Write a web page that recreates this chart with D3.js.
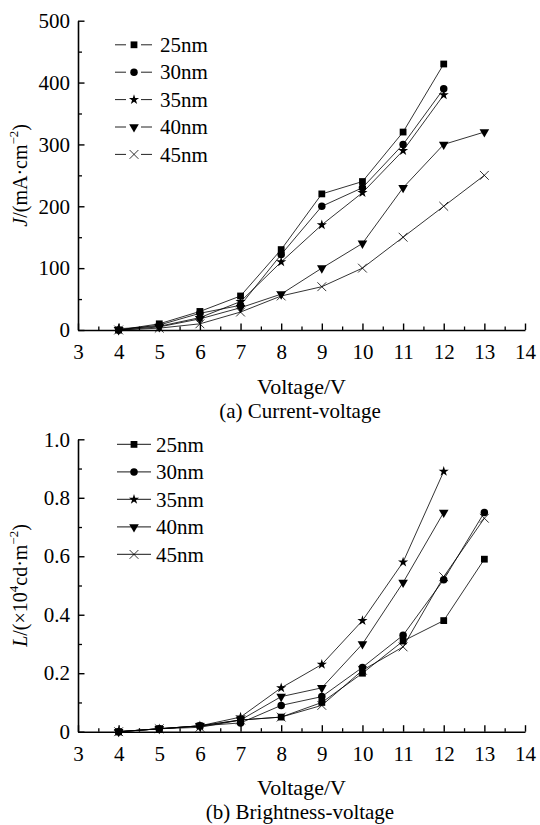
<!DOCTYPE html>
<html>
<head>
<meta charset="utf-8">
<script src="https://cdn.jsdelivr.net/npm/d3@7"></script>
<style>
  body { margin: 0; background: #fff; }
</style>
</head>
<body>
<div id="chart"></div>
<script>
var FONT = "Liberation Serif";

// series names
var seriesNames = ["25nm", "30nm", "35nm", "40nm", "45nm"];
var markerTypes = ["square", "circle", "star", "triangle", "cross"];

// (a) current density J vs voltage
var voltsA = [
  [4, 5, 6, 7, 8, 9, 10, 11, 12],
  [4, 5, 6, 7, 8, 9, 10, 11, 12],
  [4, 5, 6, 7, 8, 9, 10, 11, 12],
  [4, 5, 6, 7, 8, 9, 10, 11, 12, 13],
  [4, 5, 6, 7, 8, 9, 10, 11, 12, 13]
];
var currentJ = [
  [0, 10, 30, 55, 130, 220, 240, 320, 430],
  [0, 8, 27, 40, 122, 200, 230, 300, 390],
  [2, 6, 20, 46, 110, 170, 222, 290, 380],
  [0, 5, 18, 36, 58, 100, 140, 230, 300, 320],
  [0, 3, 10, 29, 55, 70, 100, 150, 200, 250]
];

// (b) brightness L vs voltage
var voltsB = [
  [4, 5, 6, 7, 8, 9, 10, 11, 12, 13],
  [4, 5, 6, 7, 8, 9, 10, 11, 12, 13],
  [4, 5, 6, 7, 8, 9, 10, 11, 12],
  [4, 5, 6, 7, 8, 9, 10, 11, 12],
  [4, 5, 6, 7, 8, 9, 10, 11, 12, 13]
];
var brightL = [
  [0, 0.01, 0.02, 0.04, 0.05, 0.10, 0.20, 0.31, 0.38, 0.59],
  [0, 0.01, 0.02, 0.03, 0.09, 0.12, 0.22, 0.33, 0.52, 0.75],
  [0, 0.01, 0.02, 0.05, 0.15, 0.23, 0.38, 0.58, 0.89],
  [0, 0.01, 0.02, 0.04, 0.12, 0.15, 0.30, 0.51, 0.75],
  [0, 0.01, 0.015, 0.04, 0.05, 0.09, 0.21, 0.29, 0.53, 0.73]
];

// ticks
var xTicks = [3, 4, 5, 6, 7, 8, 9, 10, 11, 12, 13, 14];
var xMinor = [3.5, 4.5, 5.5, 6.5, 7.5, 8.5, 9.5, 10.5, 11.5, 12.5, 13.5];
var yTicksA = [0, 100, 200, 300, 400, 500];
var yMinorA = [50, 150, 250, 350, 450];
var yTicksB = [0, 0.2, 0.4, 0.6, 0.8, 1.0];
var yMinorB = [0.1, 0.3, 0.5, 0.7, 0.9];

var svg = d3.select("#chart").append("svg")
  .attr("width", 540)
  .attr("height", 825)
  .attr("font-family", FONT);

// draw one marker
function marker(g, type, x, y) {
  if (type == "cross") {
    var r = 4.4;
    g.append("path")
      .attr("d", "M" + (x - r) + "," + (y - r) + "L" + (x + r) + "," + (y + r) +
                 "M" + (x - r) + "," + (y + r) + "L" + (x + r) + "," + (y - r))
      .attr("stroke", "#000").attr("stroke-width", 0.8).attr("fill", "none");
    return;
  }
  var sym, rot = 0;
  if (type == "square") sym = d3.symbol().type(d3.symbolSquare).size(46);
  if (type == "circle") sym = d3.symbol().type(d3.symbolCircle).size(44);
  if (type == "star") sym = d3.symbol().type(d3.symbolStar).size(32);
  if (type == "triangle") { sym = d3.symbol().type(d3.symbolTriangle).size(40); rot = 180; }
  g.append("path")
    .attr("d", sym())
    .attr("transform", "translate(" + x + "," + y + ") rotate(" + rot + ")")
    .attr("fill", "#000");
}

function panel(opt) {
  var x = d3.scaleLinear().domain([3, 14]).range([78, 525]);
  var y = d3.scaleLinear().domain(opt.yDomain).range(opt.yRange);
  var g = svg.append("g");

  // minor ticks
  g.append("g")
    .attr("transform", "translate(0," + opt.yRange[0] + ")")
    .call(d3.axisBottom(x).tickValues(xMinor).tickSizeInner(-3.5).tickSizeOuter(0).tickFormat(""))
    .call(function(a) { a.select(".domain").remove(); a.selectAll("line").attr("stroke-width", 1.3); });
  g.append("g")
    .attr("transform", "translate(78,0)")
    .call(d3.axisLeft(y).tickValues(opt.yMinor).tickSizeInner(-4).tickSizeOuter(0).tickFormat(""))
    .call(function(a) { a.select(".domain").remove(); a.selectAll("line").attr("stroke-width", 1.3); });

  // major axes
  var xa = g.append("g")
    .attr("transform", "translate(0," + opt.yRange[0] + ")")
    .call(d3.axisBottom(x).tickValues(xTicks).tickSizeInner(-6.5).tickSizeOuter(0).tickPadding(14));
  var ya = g.append("g")
    .attr("transform", "translate(78,0)")
    .call(d3.axisLeft(y).tickValues(opt.yTicks).tickSizeInner(-6.5).tickSizeOuter(0).tickPadding(8)
      .tickFormat(opt.fmt));
  [xa, ya].forEach(function(a) {
    a.attr("font-family", FONT).attr("font-size", 21);
    a.select(".domain").attr("stroke-width", 1.6);
    a.selectAll("line").attr("stroke-width", 1.4);
    a.selectAll("text").attr("font-size", 21).attr("font-family", FONT).attr("fill", "#000");
  });

  // lines and markers
  var line = d3.line()
    .x(function(d) { return x(d[0]); })
    .y(function(d) { return y(d[1]); });
  for (var i = 0; i < seriesNames.length; i++) {
    var pts = opt.xs[i].map(function(v, k) { return [v, opt.ys[i][k]]; });
    g.append("path")
      .datum(pts)
      .attr("d", line)
      .attr("fill", "none")
      .attr("stroke", "#000")
      .attr("stroke-width", 0.8);
    for (var k = 0; k < pts.length; k++) {
      marker(g, markerTypes[i], x(pts[k][0]), y(pts[k][1]));
    }
  }

  // legend
  for (var i = 0; i < seriesNames.length; i++) {
    var ly = opt.legY + i * opt.legStep;
    if (opt.gap) {
      g.append("line").attr("x1", 115).attr("x2", 126).attr("y1", ly).attr("y2", ly)
        .attr("stroke", "#222").attr("stroke-width", 1);
      g.append("line").attr("x1", 141).attr("x2", 152).attr("y1", ly).attr("y2", ly)
        .attr("stroke", "#222").attr("stroke-width", 1);
    } else {
      g.append("line").attr("x1", 117).attr("x2", 151).attr("y1", ly).attr("y2", ly)
        .attr("stroke", "#444").attr("stroke-width", 1.2);
    }
    marker(g, markerTypes[i], 134, ly);
    g.append("text")
      .attr("x", opt.legTextX)
      .attr("y", ly)
      .attr("dy", "0.34em")
      .attr("font-family", FONT)
      .attr("font-size", 21)
      .text(seriesNames[i]);
  }

  // x axis title
  g.append("text")
    .attr("x", (78 + 525) / 2)
    .attr("y", opt.xTitleY)
    .attr("text-anchor", "middle")
    .attr("font-family", FONT)
    .attr("font-size", 22)
    .text("Voltage/V");

  // y axis title
  var yt = g.append("text")
    .attr("transform", "translate(27," + ((opt.yRange[0] + opt.yRange[1]) / 2) + ") rotate(-90)")
    .attr("text-anchor", "middle")
    .attr("font-family", FONT)
    .attr("font-size", 20);
  opt.yTitle(yt);

  // caption
  g.append("text")
    .attr("x", 300)
    .attr("y", opt.capY)
    .attr("text-anchor", "middle")
    .attr("font-family", FONT)
    .attr("font-size", 21)
    .text(opt.caption);
}

panel({
  xs: voltsA, ys: currentJ,
  yDomain: [0, 500], yRange: [330, 20.7],
  yTicks: yTicksA, yMinor: yMinorA,
  fmt: d3.format("d"),
  legY: 44.8, legStep: 27.4, legTextX: 160, gap: true,
  xTitleY: 394, capY: 418,
  caption: "(a) Current-voltage",
  yTitle: function(t) {
    t.append("tspan").attr("font-style", "italic").text("J");
    t.append("tspan").text("/(mA·cm");
    t.append("tspan").attr("font-size", 13).attr("dy", "-0.7em").text("−2");
    t.append("tspan").attr("dy", "0.45em").text(")");
  }
});

panel({
  xs: voltsB, ys: brightL,
  yDomain: [0, 1], yRange: [731.7, 439.3],
  yTicks: yTicksB, yMinor: yMinorB,
  fmt: function(d) { return d == 0 ? "0" : d3.format(".1f")(d); },
  legY: 444.4, legStep: 27.5, legTextX: 156, gap: false,
  xTitleY: 795, capY: 819,
  caption: "(b) Brightness-voltage",
  yTitle: function(t) {
    t.append("tspan").attr("font-style", "italic").text("L");
    t.append("tspan").text("/(×10");
    t.append("tspan").attr("font-size", 13).attr("dy", "-0.7em").text("4");
    t.append("tspan").attr("dy", "0.45em").text("cd·m");
    t.append("tspan").attr("font-size", 13).attr("dy", "-0.7em").text("−2");
    t.append("tspan").attr("dy", "0.45em").text(")");
  }
});
</script>
</body>
</html>
